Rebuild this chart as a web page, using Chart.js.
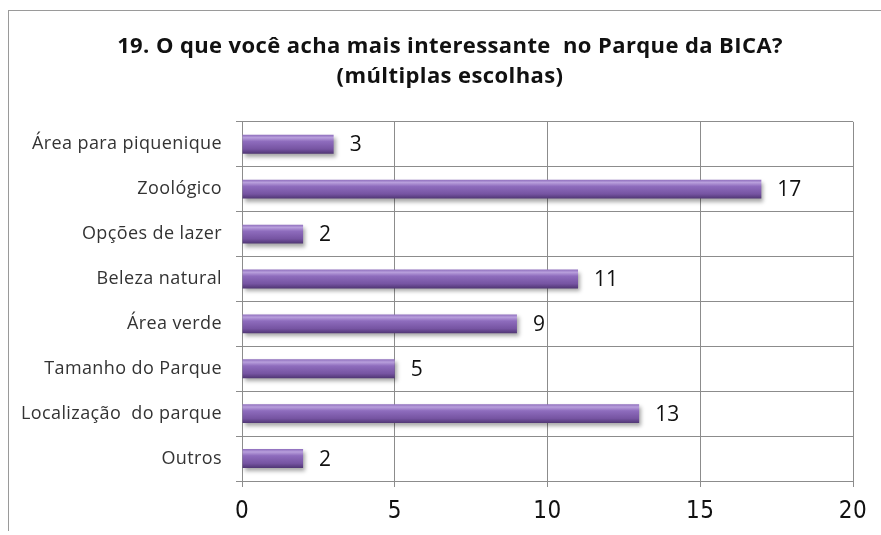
<!DOCTYPE html>
<html>
<head>
<meta charset="utf-8">
<script src="https://cdn.jsdelivr.net/npm/chart.js@4.4.1/dist/chart.umd.min.js"></script>
<style>
  html, body { margin: 0; padding: 0; background: #fff; }
  #wrap { position: relative; width: 881px; height: 535px; overflow: hidden; }
  #frame { position: absolute; left: 8px; top: 10px; width: 1000px; height: 520px;
           border-left: 1px solid #9a9a9a; border-top: 1px solid #9a9a9a; }
  canvas { position: absolute; left: 0; top: 0; }
</style>
</head>
<body>
<div id="wrap">
  <div id="frame"></div>
  <canvas id="barChart" width="881" height="535"></canvas>
</div>
<script>
const categories = [
  "Área para piquenique",
  "Zoológico",
  "Opções de lazer",
  "Beleza natural",
  "Área verde",
  "Tamanho do Parque",
  "Localização  do parque",
  "Outros"
];
const answers = [3, 17, 2, 11, 9, 5, 13, 2];
const titleLines = ["19. O que você acha mais interessante  no Parque da BICA?", "(múltiplas escolhas)"];

const BAR_H = 19;

// vertical shading for each bar, like a rounded purple tube
function barFill(c) {
  const chart = c.chart;
  const y = chart.scales && chart.scales.y;
  if (!y || c.dataIndex === undefined) return "#7e5aa8";
  const mid = y.getPixelForValue(c.dataIndex);
  if (!Number.isFinite(mid)) return "#7e5aa8";
  const g = chart.ctx.createLinearGradient(0, mid - BAR_H / 2, 0, mid + BAR_H / 2);
  g.addColorStop(0, "#8d6cbc");
  g.addColorStop(0.15, "#b89fdc");
  g.addColorStop(0.35, "#8e6cbd");
  g.addColorStop(0.75, "#7654a2");
  g.addColorStop(1, "#4f3573");
  return g;
}

const barExtras = {
  id: "barExtras",
  afterLayout(chart) {
    // centre the title a bit to the right, over the frame
    if (chart.titleBlock) chart.titleBlock.left = 47;
  },
  beforeDraw(chart) {
    chart.ctx.letterSpacing = "0.4px";
  },
  beforeDatasetsDraw(chart) {
    const ctx = chart.ctx;
    ctx.letterSpacing = "0px";
    ctx.save();
    ctx.shadowColor = "rgba(0,0,0,0.35)";
    ctx.shadowBlur = 4;
    ctx.shadowOffsetX = 2;
    ctx.shadowOffsetY = 3;
  },
  afterDatasetsDraw(chart) {
    const ctx = chart.ctx;
    ctx.restore();
    const meta = chart.getDatasetMeta(0);
    ctx.save();
    ctx.font = "21px 'Open Sans'";
    ctx.fillStyle = "#111";
    ctx.textAlign = "left";
    ctx.textBaseline = "middle";
    meta.data.forEach((bar, i) => {
      ctx.fillText(String(answers[i]), bar.x + 16, bar.y + 1);
    });
    ctx.restore();
  }
};

new Chart(document.getElementById("barChart"), {
  type: "bar",
  data: {
    labels: categories,
    datasets: [{
      data: answers,
      backgroundColor: barFill,
      borderWidth: 0,
      categoryPercentage: 1,
      barPercentage: 0.42
    }]
  },
  plugins: [barExtras],
  options: {
    indexAxis: "y",
    responsive: false,
    animation: false,
    layout: { padding: { left: 0, right: 28, top: 0, bottom: 0 } },
    plugins: {
      legend: { display: false },
      tooltip: { enabled: false },
      title: {
        display: true,
        text: titleLines,
        color: "#111",
        font: { family: "'Open Sans'", size: 22, weight: "bold", lineHeight: 1.36 },
        padding: { top: 32, bottom: 30 }
      }
    },
    scales: {
      x: {
        min: 0,
        max: 20,
        ticks: { stepSize: 5, color: "#111", padding: 10, font: { family: "'Liberation Sans Narrow', 'DejaVu Sans Condensed'", size: 24 } },
        grid: { color: "#8c8c8c", tickLength: 6, tickColor: "#8c8c8c" },
        border: { color: "#8c8c8c" },
        afterFit(scale) { scale.height = 54; }
      },
      y: {
        ticks: { color: "#333", padding: 14, font: { family: "'Open Sans'", size: 18 } },
        grid: { color: "#8c8c8c", tickLength: 6, tickColor: "#8c8c8c" },
        border: { color: "#8c8c8c" },
        afterFit(scale) { scale.width = 242; }
      }
    }
  }
});
</script>
</body>
</html>
